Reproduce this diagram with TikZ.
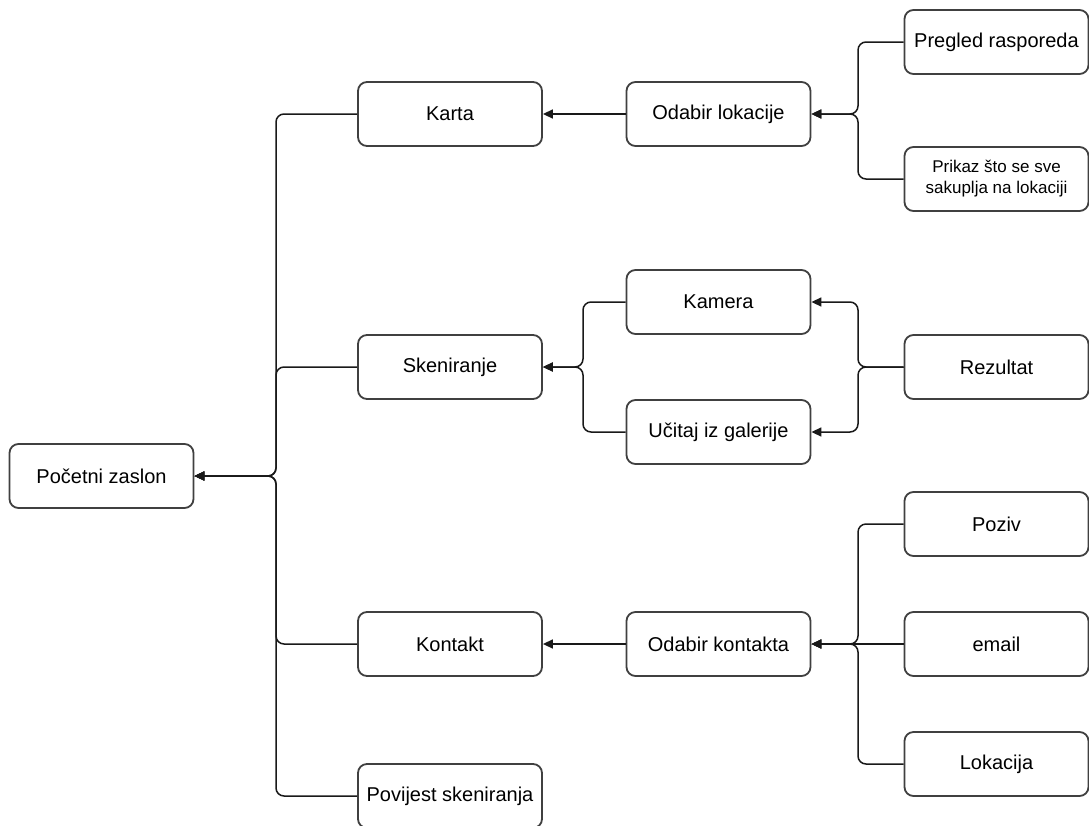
\documentclass[tikz,border=0pt]{standalone}
\usepackage{fontspec}
\setmainfont{Liberation Sans}
\usetikzlibrary{arrows.meta}
\begin{document}
\begin{tikzpicture}[x=1pt,y=-1pt,
  box/.style={draw=black!75,line width=1.8pt,rounded corners=9pt,fill=white,
    minimum width=184pt,minimum height=64pt,inner sep=2pt,align=center,
    font=\fontsize{20}{24}\selectfont},
  smallbox/.style={box,font=\fontsize{17}{21}\selectfont},
  conn/.style={draw=black!90,line width=1.5pt,rounded corners=8pt},
  arr/.style={conn,-{Triangle[length=10pt,width=9pt]}}]
\useasboundingbox (0,0) rectangle (1089,825);
\node[box] (pz) at (101.5,476) {Početni zaslon};
\node[box] (karta) at (450,114) {Karta};
\node[box] (sken) at (450,367) {Skeniranje};
\node[box] (kont) at (450,644) {Kontakt};
\node[box] (pov) at (450,796) {Povijest skeniranja};
\node[box] (odl) at (718.5,114) {Odabir lokacije};
\node[box] (kam) at (718.5,302) {Kamera};
\node[box] (uci) at (718.5,432) {Učitaj iz galerije};
\node[box] (odk) at (718.5,644) {Odabir kontakta};
\node[box] (preg) at (996.5,42) {Pregled rasporeda};
\node[smallbox] (prik) at (996.5,179) {Prikaz što se sve\\sakuplja na lokaciji};
\node[box] (rez) at (996.5,367) {Rezultat};
\node[box] (poz) at (996.5,524) {Poziv};
\node[box] (mail) at (996.5,644) {email};
\node[box] (lok) at (996.5,764) {Lokacija};
% to Pocetni zaslon
\foreach \n in {karta,sken,kont,pov}
  \draw[arr] (\n.west) -- (276,0 |- \n.west) -- (276,476) -- (pz.east);
% to Karta / Kontakt
\draw[arr] (odl.west) -- (karta.east);
\draw[arr] (odk.west) -- (kont.east |- odk.west);
% to Skeniranje
\foreach \n in {kam,uci}
  \draw[arr] (\n.west) -- (583,0 |- \n.west) -- (583,367) -- (sken.east);
% from Rezultat
\foreach \n in {kam,uci}
  \draw[arr] (rez.west) -- (858,367) -- (858,0 |- \n.east) -- (\n.east);
% to Odabir lokacije
\foreach \n in {preg,prik}
  \draw[arr] (\n.west) -- (858,0 |- \n.west) -- (858,114) -- (odl.east);
% to Odabir kontakta
\foreach \n in {poz,lok}
  \draw[arr] (\n.west) -- (858,0 |- \n.west) -- (858,644) -- (odk.east);
\draw[arr] (mail.west) -- (odk.east);
\end{tikzpicture}
\end{document}
